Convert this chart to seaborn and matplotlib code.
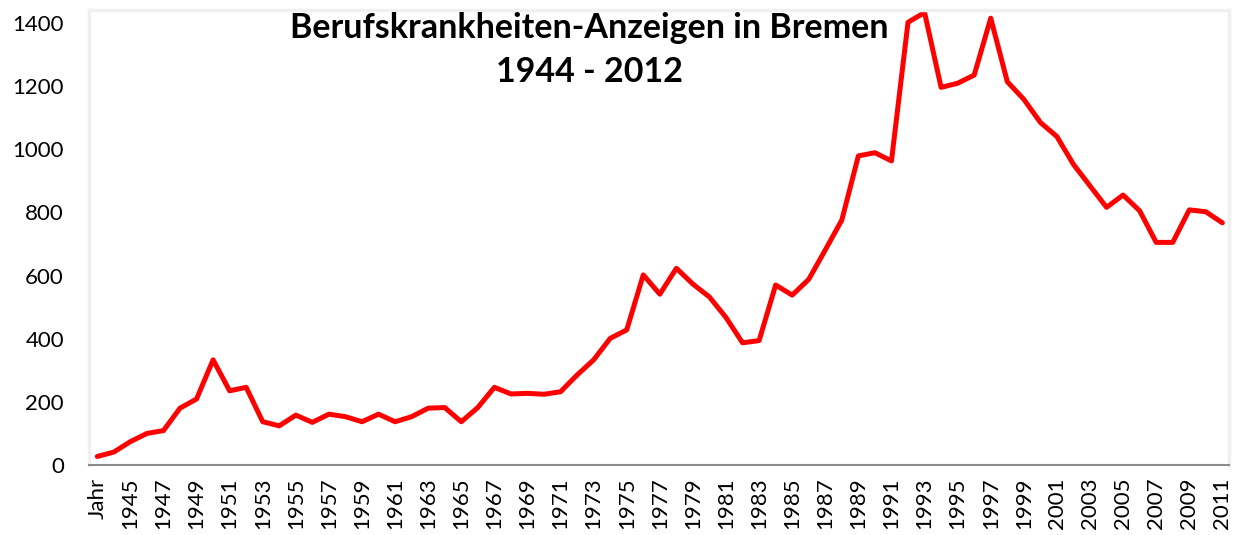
import numpy as np
import pandas as pd
import seaborn as sns
import matplotlib.pyplot as plt

# Kategorien wie in der Excel-Vorlage: erste Zeile "Jahr", dann 1944 ... 2011
jahre = ["Jahr"] + [str(j) for j in range(1944, 2012)]
anzeigen = [27, 41, 74, 100, 109, 180, 209, 333, 235, 246,
            137, 124, 158, 135, 161, 153, 137, 161, 137, 153,
            180, 182, 137, 182, 246, 225, 227, 224, 232, 285,
            333, 401, 428, 602, 541, 623, 573, 532, 467, 387,
            394, 570, 538, 588, 681, 776, 979, 989, 963, 1402,
            1433, 1196, 1209, 1235, 1415, 1214, 1158, 1085, 1040, 952,
            884, 816, 855, 805, 705, 705, 808, 802, 767]

df = pd.DataFrame({"Jahr": jahre, "Anzeigen": anzeigen})

sns.set_theme(style="white")
plt.rcParams['font.family'] = ['Lato', 'DejaVu Sans']

fig = plt.figure(figsize=(12.43, 5.35), dpi=100)
ax = fig.add_axes([89 / 1243, 70 / 535, 1140 / 1243, 455 / 535])

sns.lineplot(data=df, x="Jahr", y="Anzeigen", ax=ax, color="#ff0000",
             linewidth=3.6, sort=False, solid_joinstyle="round",
             solid_capstyle="round")

ax.set_xlim(-0.5, len(jahre) - 0.6)
ax.set_ylim(0, 1441)
ax.set_yticks(range(0, 1401, 200))
ax.set_xticks(range(0, len(jahre), 2))
ax.set_xticklabels(jahre[::2], rotation=90)
ax.set_xlabel("")
ax.set_ylabel("")
ax.tick_params(axis="y", length=0, pad=18, labelsize=16, colors="black")
ax.tick_params(axis="x", length=0, pad=9, labelsize=16, colors="black")

for side in ["left", "top", "right"]:
    ax.spines[side].set_color("#f0f0f0")
    ax.spines[side].set_linewidth(2.5)
ax.spines["bottom"].set_color("#8c8c8c")
ax.spines["bottom"].set_linewidth(1.5)

fig.text(0.474, 1 - 12 / 535, "Berufskrankheiten-Anzeigen in Bremen\n1944 - 2012",
         ha="center", va="top", fontsize=24.5, fontweight="bold",
         color="black", multialignment="center", linespacing=1.45)

plt.savefig("out.png", dpi=100)
